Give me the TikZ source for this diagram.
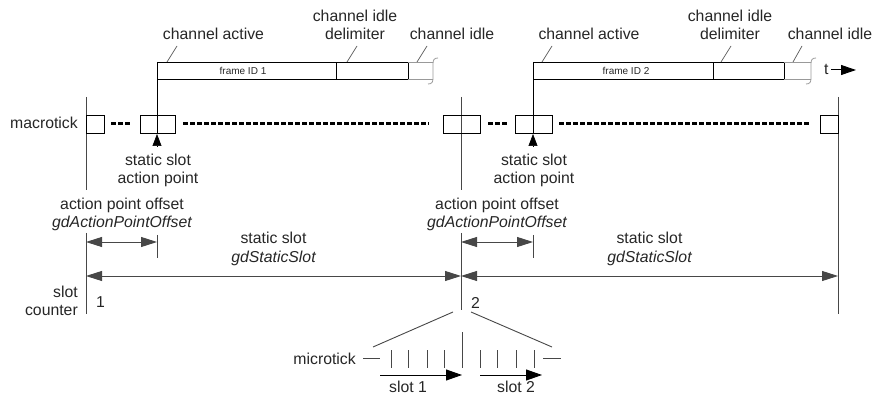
\documentclass[tikz,border=0pt]{standalone}
\usepackage{fontspec}
\setmainfont{Liberation Sans}
\usetikzlibrary{arrows.meta}
\begin{document}
\begin{tikzpicture}[x=1pt,y=-1pt,
  lbl/.style={font=\fontsize{15.8}{18}\selectfont, text=black!85, inner sep=0pt, anchor=base},
  small/.style={font=\fontsize{10}{12}\selectfont, text=black!85, inner sep=0pt, anchor=base},
  rule/.style={draw=black!72, line width=0.9pt},
  boxline/.style={draw=black, line width=0.8pt},
  idle/.style={draw=black!40, line width=0.8pt},
  leader/.style={draw=black!65, line width=0.7pt},
  dots/.style={draw=black, line width=2.6pt, dash pattern=on 5pt off 2pt},
  dim/.style={rule, {Triangle[length=16pt,width=10pt]}-{Triangle[length=16pt,width=10pt]}},
  fwd/.style={rule, -{Triangle[length=16pt,width=11pt]}},
  tip/.style={-{Triangle[length=12pt,width=9pt]}, draw=black, line width=0.6pt},
]
\useasboundingbox (0,0) rectangle (875,395);

% ---------- slot boundaries ----------
\coordinate (s1top) at (86,97);   \coordinate (s1bot) at (86,314);
\coordinate (s2top) at (461,97);  \coordinate (s2bot) at (461,310);
\coordinate (s3top) at (838,97);  \coordinate (s3bot) at (838,314);
\draw[rule] (s1top) -- (86,190) (86,233) -- (s1bot);
\draw[rule] (s2top) -- (461,190) (461,233) -- (s2bot);
\draw[rule] (s3top) -- (s3bot);

% ---------- macrotick row ----------
\node[lbl, anchor=base east] (mt) at (78,129) {macrotick};
\draw[boxline] (86,115) rectangle (104,133);
\draw[dots] (111,123.5) -- (131,123.5);
\draw[boxline] (140,115) rectangle (175,133);
\draw[dots] (183,123.5) -- (429,123.5);
\draw[boxline] (443,115) rectangle (480,133);
\draw[dots] (488,123.5) -- (508,123.5);
\draw[boxline] (515,115) rectangle (552,133);
\draw[dots] (559,123.5) -- (809,123.5);
\draw[boxline] (820,115) rectangle (838,133);

% ---------- frame 1 ----------
\draw[boxline] (157,62) rectangle (336,79);
\draw[boxline] (336,62) rectangle (408,79);
\draw[idle] (408,62) -- (433,62) (408,79) -- (433,79);
\draw[idle] (438,58) .. controls (434,58) and (433,60) .. (433,64)
  -- (433,78) .. controls (433,82) and (432,84) .. (428,84);
\node[small] (f1) at (243,75) {frame ID 1};
\draw[boxline] (157,62) -- (157,133);
\coordinate (ap1) at (157,134);
\draw[tip] (157,147) -- (ap1);

% ---------- frame 2 ----------
\draw[boxline] (533,62) rectangle (713,79);
\draw[boxline] (713,62) rectangle (784,79);
\draw[idle] (784,62) -- (811,62) (784,79) -- (811,79);
\draw[idle] (816,58) .. controls (812,58) and (811,60) .. (811,64)
  -- (811,78) .. controls (811,82) and (810,84) .. (806,84);
\node[small] (f2) at (626,75) {frame ID 2};
\draw[boxline] (533,62) -- (533,133);
\coordinate (ap2) at (533,134);
\draw[tip] (533,147) -- (ap2);

% time axis
\node[lbl, anchor=base west] (t) at (824,75) {t};
\coordinate (tA) at (831,70);
\coordinate (tB) at (856,70);
\draw[draw=black, line width=1pt, -{Triangle[length=15pt,width=10pt]}] (tA) -- (tB);

% ---------- channel labels ----------
\node[lbl] (ca1) at (213.5,40) {channel active};
\node[lbl] (cd1a) at (355,22) {channel idle};
\node[lbl] (cd1b) at (355,40) {delimiter};
\node[lbl] (ci1) at (452,40) {channel idle};
\draw[leader] (167,62) -- (177,46);
\draw[leader] (347,62) -- (357,46);
\draw[leader] (417,62) -- (427,46);

\node[lbl] (ca2) at (589,40) {channel active};
\node[lbl] (cd2a) at (730,22) {channel idle};
\node[lbl] (cd2b) at (730,40) {delimiter};
\node[lbl] (ci2) at (830,40) {channel idle};
\draw[leader] (542,62) -- (552,46);
\draw[leader] (721,62) -- (731,46);
\draw[leader] (793,62) -- (802,46);

% ---------- action points ----------
\node[lbl] (sap1a) at (158,166) {static slot};
\node[lbl] (sap1b) at (158,184) {action point};
\node[lbl] (sap2a) at (534,166) {static slot};
\node[lbl] (sap2b) at (534,184) {action point};

% ---------- action point offset ----------
\node[lbl] (apo1a) at (122,210) {action point offset};
\node[lbl] (apo1b) at (122,228) {\itshape gdActionPointOffset};
\node[lbl] (apo2a) at (497,210) {action point offset};
\node[lbl] (apo2b) at (497,228) {\itshape gdActionPointOffset};
\coordinate (o1a) at (86,242);  \coordinate (o1b) at (157,242);
\coordinate (o2a) at (461,242); \coordinate (o2b) at (533,242);
\draw[rule] (157,235) -- (157,258);
\draw[rule] (533,235) -- (533,258);
\draw[dim] (o1a) -- (o1b);
\draw[dim] (o2a) -- (o2b);

% ---------- static slot length ----------
\node[lbl] (ss1a) at (273.5,244) {static slot};
\node[lbl] (ss1b) at (273.5,263) {\itshape gdStaticSlot};
\node[lbl] (ss2a) at (649.5,244) {static slot};
\node[lbl] (ss2b) at (649.5,263) {\itshape gdStaticSlot};
\coordinate (d1a) at (86,276);  \coordinate (d1b) at (461,276);
\coordinate (d2a) at (461,276); \coordinate (d2b) at (838,276);
\draw[dim] (d1a) -- (d1b);
\draw[dim] (d2a) -- (d2b);

% ---------- slot counter ----------
\node[lbl, anchor=base east] (sc1) at (78,298) {slot};
\node[lbl, anchor=base east] (sc2) at (78,316) {counter};
\node[lbl, anchor=base west] (n1) at (96,307) {1};
\node[lbl, anchor=base west] (n2) at (471,308) {2};

% ---------- microtick detail ----------
\draw[rule] (453,312) -- (373,347);
\draw[rule] (471,312) -- (552,347);
\node[lbl, anchor=base east] (mu) at (356,364) {microtick};
\draw[rule] (363,358) -- (380,358);
\draw[rule] (543,358) -- (561,358);
\draw[rule] (462,332) -- (462,368);
\foreach \x in {391,408,427,444,480,497,516,534}
  \draw[rule] (\x,350) -- (\x,368);
\coordinate (m1a) at (380,375); \coordinate (m1b) at (462,375);
\coordinate (m2a) at (480,375); \coordinate (m2b) at (542,375);
\draw[fwd, draw=black] (m1a) -- (m1b);
\draw[fwd, draw=black] (m2a) -- (m2b);
\node[lbl] (sl1) at (408,392) {slot 1};
\node[lbl] (sl2) at (516,392) {slot 2};
\end{tikzpicture}
\end{document}
